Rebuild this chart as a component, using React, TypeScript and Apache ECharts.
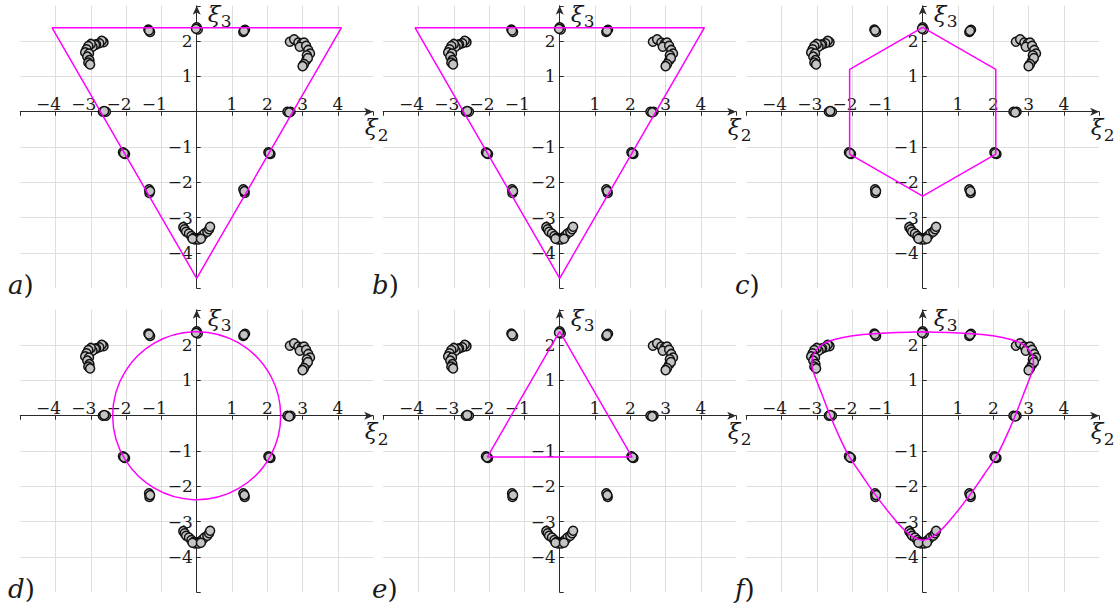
import React, { useEffect, useRef } from "react";
import * as echarts from "echarts";

// ---- sample points (ξ2, ξ3), shared by all six panels ----
const ptsTop = [[0, 2.39], [0.03, 2.33], [-0.02, 2.35]];
const ptsUpperLeft = [[-1.37, 2.33], [-1.32, 2.26], [-1.35, 2.3]];
const ptsUpperRight = [[1.32, 2.26], [1.37, 2.32], [1.34, 2.29]];
const arcLeft = [
  [-2.64, 1.97], [-2.69, 2.01], [-2.76, 1.94], [-2.85, 1.91], [-2.88, 1.89],
  [-2.95, 1.84], [-3.0, 1.92], [-3.07, 1.86], [-3.12, 1.77], [-3.16, 1.68],
  [-3.05, 1.65], [-3.1, 1.56], [-3.04, 1.46], [-3.07, 1.39], [-3.02, 1.34],
];
const arcRight = [
  [2.64, 1.98], [2.76, 2.05], [2.88, 1.96], [2.98, 1.94], [3.04, 1.96],
  [2.92, 1.84], [3.1, 1.87], [3.16, 1.75], [3.21, 1.65], [3.12, 1.6],
  [3.1, 1.45], [3.15, 1.52], [3.04, 1.35], [3.0, 1.29],
];
const ptsAxisLeft = [[-2.66, 0], [-2.57, 0], [-2.62, 0.02]];
const ptsAxisRight = [[2.57, 0], [2.66, 0], [2.62, -0.02]];
const ptsMidLeft = [[-2.09, -1.15], [-2.03, -1.2], [-2.06, -1.18]];
const ptsMidRight = [[2.03, -1.15], [2.09, -1.2], [2.06, -1.18]];
const ptsLowLeft = [[-1.35, -2.2], [-1.34, -2.3], [-1.32, -2.25]];
const ptsLowRight = [[1.32, -2.2], [1.36, -2.3], [1.35, -2.25]];
const arcBottom = [
  [-0.38, -3.27], [-0.34, -3.33], [-0.3, -3.4], [-0.22, -3.45], [-0.15, -3.52],
  [-0.08, -3.57], [0, -3.6], [0.08, -3.57], [0.15, -3.52], [0.22, -3.45],
  [0.3, -3.4], [0.35, -3.33], [0.38, -3.26], [-0.05, -3.62], [0.05, -3.62],
  [-0.12, -3.6], [0.12, -3.6],
];
const samplePoints = [
  ...ptsTop, ...ptsUpperLeft, ...ptsUpperRight, ...arcLeft, ...arcRight,
  ...ptsAxisLeft, ...ptsAxisRight, ...ptsMidLeft, ...ptsMidRight,
  ...ptsLowLeft, ...ptsLowRight, ...arcBottom,
];

// ---- outlines ----
const triangleOuter = [[-4.1, 2.38], [4.1, 2.38], [0, -4.72], [-4.1, 2.38]];
const hexagon = [
  [0, 2.39], [2.07, 1.2], [2.07, -1.2], [0, -2.39], [-2.07, -1.2], [-2.07, 1.2], [0, 2.39],
];
const circle = [[0, 0, 2.38]]; // centre ξ2, centre ξ3, radius
const triangleInner = [[0, 2.39], [2.05, -1.17], [-2.05, -1.17], [0, 2.39]];
const roundedCurve = [
  [0, 2.38], [1.27, 2.33], [2.03, 2.26], [2.5, 2.16], [2.79, 2.05], [2.97, 1.91],
  [3.1, 1.72], [3.14, 1.48], [3.1, 1.25], [2.86, 0.62], [2.62, 0], [2.36, -0.6],
  [2.08, -1.16], [1.73, -1.68], [1.37, -2.2], [0.9, -2.81], [0.52, -3.24],
  [0.24, -3.45], [0, -3.53], [-0.24, -3.45], [-0.52, -3.24], [-0.9, -2.81],
  [-1.37, -2.2], [-1.73, -1.68], [-2.08, -1.16], [-2.36, -0.6], [-2.62, 0],
  [-2.86, 0.62], [-3.1, 1.25], [-3.14, 1.48], [-3.1, 1.72], [-2.97, 1.91],
  [-2.79, 2.05], [-2.5, 2.16], [-2.03, 2.26], [-1.27, 2.33], [0, 2.38],
];

const panelLetters = ["a", "b", "c", "d", "e", "f"];
const xTickLabels = [-4, -3, -2, -1, 1, 2, 3, 4];
const yTickLabels = [-4, -3, -2, -1, 1, 2];

const X_MIN = -5, X_MAX = 5, Y_MIN = -5, Y_MAX = 3;
const UNIT = 35.3;
const ORIGIN_X = [196.7, 559.7, 922.7];
const ORIGIN_Y = [111.7, 415.7];
const LETTER_X = [8, 372, 735];
const LETTER_Y = [285, 589];

const FONT = "DejaVu Serif";
const MAGENTA = "#ff00ff";
const AXIS = "#2a2a2a";
const TEXT = "#1a1a1a";
const MINUS_W = 14;

export default function App() {
  const ref = useRef<HTMLDivElement>(null);

  useEffect(() => {
    if (!ref.current) return;
    const chart = echarts.init(ref.current, null, { renderer: "svg" });

    const grids: any[] = [];
    const xAxes: any[] = [];
    const yAxes: any[] = [];
    const series: any[] = [];
    const graphics: any[] = [];

    const txt = (text: string, x: number, y: number, size: number, italic = false) => ({
      type: "text",
      x,
      y,
      silent: true,
      z: 10,
      style: {
        text,
        fontFamily: FONT,
        fontSize: size,
        fontStyle: italic ? "italic" : "normal",
        fill: TEXT,
        align: "left",
        verticalAlign: "middle",
      },
    });

    for (let i = 0; i < 6; i++) {
      const col = i % 3;
      const row = Math.floor(i / 3);
      const ox = ORIGIN_X[col];
      const oy = ORIGIN_Y[row];
      grids.push({
        left: ox + X_MIN * UNIT,
        top: oy - Y_MAX * UNIT,
        width: (X_MAX - X_MIN) * UNIT,
        height: (Y_MAX - Y_MIN) * UNIT,
        containLabel: false,
        outerBoundsMode: "none",
      });
      // horizontal axis drawn through ξ3 = 0
      xAxes.push({
        gridIndex: i,
        type: "value",
        min: X_MIN,
        max: X_MAX,
        interval: 1,
        position: "top",
        offset: -Y_MAX * UNIT,
        axisLine: {
          onZero: false,
          symbol: ["none", "arrow"],
          symbolSize: [6, 9],
          lineStyle: { color: AXIS, width: 1 },
        },
        axisTick: { inside: true, length: 4, lineStyle: { color: AXIS } },
        axisLabel: {
          margin: -1,
          fontFamily: FONT,
          fontSize: 17,
          color: TEXT,
          formatter: (v: number) =>
            xTickLabels.includes(v) ? (v < 0 ? `\u2212${-v}{sp| }` : `${v}`) : "",
          rich: { sp: { width: MINUS_W, fontSize: 17, fontFamily: FONT } },
        },
        splitLine: {
          show: true,
          showMinLine: false,
          showMaxLine: false,
          lineStyle: { color: "#dedede", width: 1 },
        },
      });
      // vertical axis drawn through ξ2 = 0
      yAxes.push({
        gridIndex: i,
        type: "value",
        min: Y_MIN,
        max: Y_MAX,
        interval: 1,
        position: "left",
        offset: X_MIN * UNIT,
        axisLine: {
          onZero: false,
          symbol: ["none", "arrow"],
          symbolSize: [6, 9],
          lineStyle: { color: AXIS, width: 1 },
        },
        axisTick: { inside: true, length: 4, lineStyle: { color: AXIS } },
        axisLabel: {
          margin: 4,
          fontFamily: FONT,
          fontSize: 17,
          color: TEXT,
          formatter: (v: number) =>
            yTickLabels.includes(v) ? (v < 0 ? `\u2212${-v}` : `${v}`) : "",
        },
        splitLine: {
          show: true,
          showMinLine: false,
          showMaxLine: false,
          lineStyle: { color: "#dedede", width: 1 },
        },
      });

      series.push({
        type: "scatter",
        xAxisIndex: i,
        yAxisIndex: i,
        data: samplePoints,
        symbol: "circle",
        symbolSize: 9,
        itemStyle: { color: "#c4c4c4", borderColor: "#111111", borderWidth: 1.5, opacity: 1 },
        silent: true,
        z: 3,
      });

      const lineBase = {
        type: "line",
        xAxisIndex: i,
        yAxisIndex: i,
        showSymbol: false,
        symbol: "none",
        silent: true,
        lineStyle: { color: MAGENTA, width: 1.5 },
        z: 4,
      };
      if (i === 0 || i === 1) series.push({ ...lineBase, data: triangleOuter });
      if (i === 2) series.push({ ...lineBase, data: hexagon });
      if (i === 4) series.push({ ...lineBase, data: triangleInner });
      if (i === 5) series.push({ ...lineBase, data: roundedCurve, smooth: 0.35 });
      if (i === 3) {
        series.push({
          type: "custom",
          xAxisIndex: i,
          yAxisIndex: i,
          data: circle,
          silent: true,
          clip: false,
          z: 4,
          renderItem: (_params: any, api: any) => {
            const c = api.coord([api.value(0), api.value(1)]);
            const r = api.size([api.value(2), 0])[0];
            return {
              type: "circle",
              shape: { cx: c[0], cy: c[1], r },
              style: { fill: "none", stroke: MAGENTA, lineWidth: 1.5 },
            };
          },
        });
      }

      // axis titles ξ3 (top of vertical axis) and ξ2 (end of horizontal axis)
      graphics.push(txt("ξ", ox + 11, oy - 97.5, 23, true));
      graphics.push(txt("3", ox + 24, oy - 90.5, 17));
      graphics.push(txt("ξ", ox + 168, oy + 15.5, 23, true));
      graphics.push(txt("2", ox + 181, oy + 23, 17));

      // panel letter
      graphics.push({
        type: "text",
        x: LETTER_X[col],
        y: LETTER_Y[row],
        silent: true,
        z: 10,
        style: {
          text: `{i|${panelLetters[i]}}{p|)}`,
          verticalAlign: "middle",
          fill: TEXT,
          rich: {
            i: { fontSize: 26, fontStyle: "italic", fontFamily: FONT, fill: TEXT },
            p: { fontSize: 26, fontFamily: FONT, fill: TEXT },
          },
        },
      });
    }

    chart.setOption({
      animation: false,
      backgroundColor: "#ffffff",
      textStyle: { fontFamily: FONT, fontSize: 17, color: TEXT },
      grid: grids,
      xAxis: xAxes,
      yAxis: yAxes,
      series,
      graphic: graphics,
    });

    return () => chart.dispose();
  }, []);

  return (
    <div
      ref={ref}
      style={{ position: "absolute", left: 0, top: 0, width: 1119, height: 612 }}
    />
  );
}
